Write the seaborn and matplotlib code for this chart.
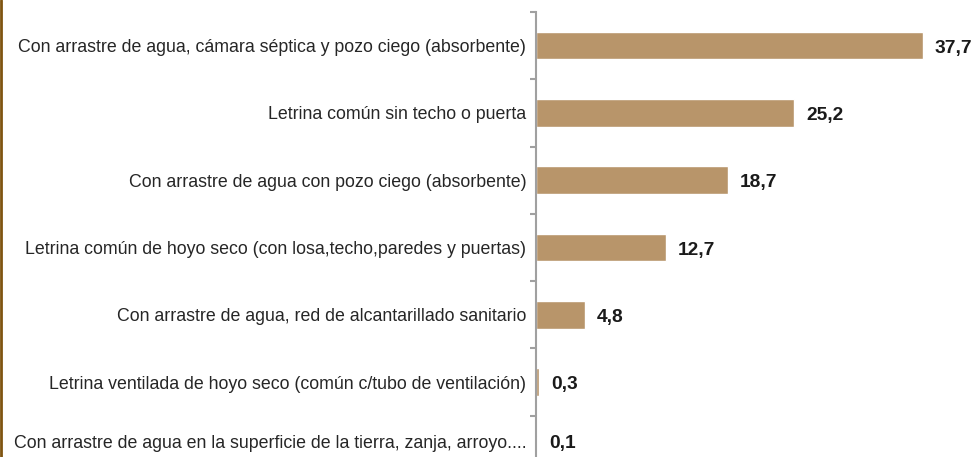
import matplotlib
matplotlib.use('Agg')
import matplotlib.pyplot as plt
import seaborn as sns
from matplotlib.lines import Line2D

# Data
categories = [
    'Con arrastre de agua, cámara séptica y pozo ciego (absorbente)',
    'Letrina común sin techo o puerta',
    'Con arrastre de agua con pozo ciego (absorbente)',
    'Letrina común de hoyo seco (con losa,techo,paredes y puertas)',
    'Con arrastre de agua, red de alcantarillado sanitario',
    'Letrina ventilada de hoyo seco (común c/tubo de ventilación)',
    'Con arrastre de agua en la superficie de la tierra, zanja, arroyo....',
]
values = [37.7, 25.2, 18.7, 12.7, 4.8, 0.3, 0.1]

sns.set_style('white')
plt.rcParams['font.family'] = ['Liberation Sans', 'DejaVu Sans']

fig = plt.figure(figsize=(9.75, 4.57), dpi=100)
ax = fig.add_axes([536 / 975, 1 - 483 / 457, 1 - 536 / 975, 471 / 457])

sns.barplot(x=values, y=categories, orient='h', color='#B8956A',
            saturation=1, width=0.41, ax=ax)

ax.set_xlim(0, 42.8)
ax.set_ylim(6.5, -0.5)
ax.set_xticks([])
ax.set_xlabel('')
ax.set_ylabel('')

for s in ['top', 'right', 'bottom']:
    ax.spines[s].set_visible(False)
ax.spines['left'].set_color('#A0A0A0')
ax.spines['left'].set_linewidth(1.5)

# labels at centres (last one sits a bit higher, the chart is cut at the bottom)
label_pos = list(range(len(categories)))
label_pos[-1] -= 0.11
ax.set_yticks(label_pos)
ax.set_yticklabels(categories, fontsize=12.8, color='#262626')
ax.tick_params(axis='y', which='major', length=0, pad=7)
# tick marks at category boundaries
ax.set_yticks([i - 0.5 for i in range(len(categories) + 1)], minor=True)
ax.tick_params(axis='y', which='minor', length=4.5, width=1.5,
               color='#A0A0A0', direction='out', left=True)

labels = [f'{v:.1f}'.replace('.', ',') for v in values]
texts = ax.bar_label(ax.containers[0], labels=labels, padding=8.5,
                     fontsize=13.8, fontweight='bold', color='#1A1A1A')
for t in texts[:-1]:
    t.xyann = (8.5, -1.8)
texts[-1].xyann = (8.5, 4)

# brown frame edge on the left
fig.add_artist(Line2D([0.001, 0.001], [0, 1], transform=fig.transFigure,
                      color='#7F5410', linewidth=2))

fig.savefig('out.png', dpi=100)
